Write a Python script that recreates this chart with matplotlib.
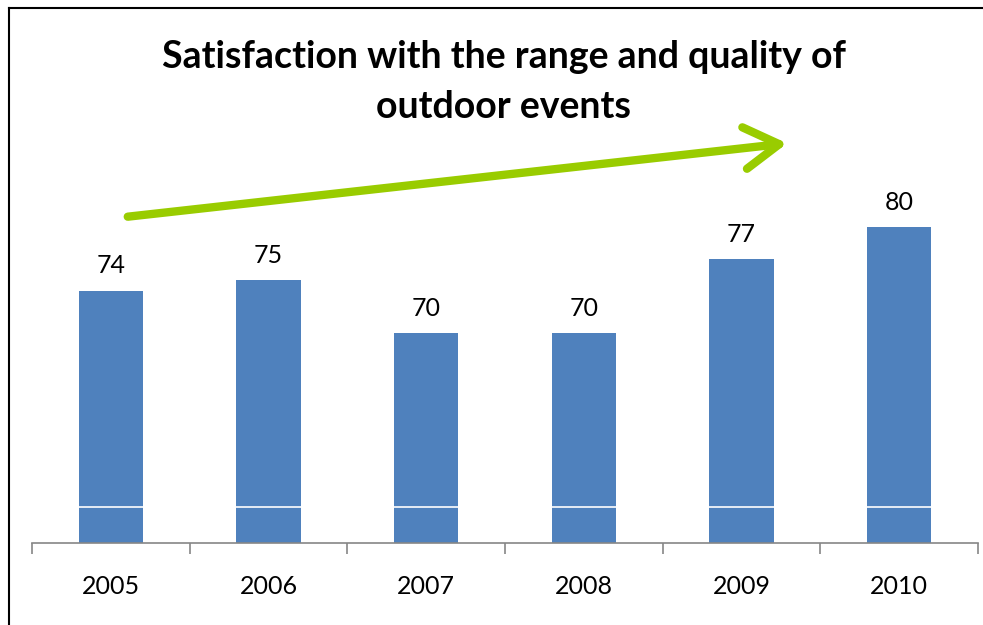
import matplotlib
matplotlib.use("Agg")
import matplotlib.pyplot as plt
from matplotlib.lines import Line2D
from matplotlib.patches import FancyArrowPatch

years = ["2005", "2006", "2007", "2008", "2009", "2010"]
values = [74, 75, 70, 70, 77, 80]
title = "Satisfaction with the range and quality of\noutdoor events"

W, H = 983, 625
fig = plt.figure(figsize=(W / 100, H / 100), dpi=100)
fig.patch.set_facecolor("white")

def fx(px):
    return px / W

def fy(py):
    return 1 - py / H

ymin = 50.2
scale = 10.6  # px per unit
ax_top_px, ax_bot_px = 8, 543
ymax = ymin + (ax_bot_px - ax_top_px) / scale
ax = fig.add_axes([fx(32), fy(ax_bot_px), fx(978) - fx(32), (ax_bot_px - ax_top_px) / H])
ax.set_facecolor("none")

x = list(range(len(years)))
bars = ax.bar(x, values, width=0.41, color="#4F81BD", zorder=2)
ax.set_xlim(-0.5, len(years) - 0.5)
ax.set_ylim(ymin, ymax)
ax.axhline(ymin + (543 - 507) / scale, color="white", lw=1.2, zorder=3)

for xi, v in zip(x, values):
    ax.text(xi, v + 1.25, str(v), ha="center", va="bottom", fontsize=18,
            family="Lato", color="black")

for s in ["top", "right", "left"]:
    ax.spines[s].set_visible(False)
ax.spines["bottom"].set_color("#868686")
ax.spines["bottom"].set_linewidth(1.2)
ax.set_yticks([])
ax.set_xticks([i - 0.5 for i in range(len(years) + 1)], minor=False)
ax.set_xticklabels([])
ax.tick_params(axis="x", which="major", length=8, color="#868686", width=1.2)
ax.set_xticks(x, minor=True)
ax.set_xticklabels(years, minor=True, fontsize=18, family="Lato")
ax.tick_params(axis="x", which="minor", length=0, pad=23)

fig.text(fx(504), fy(82), title, ha="center", va="center", fontsize=27,
         fontweight="bold", family="Lato", linespacing=1.6)

arrow = FancyArrowPatch((fx(125), fy(217)), (fx(790), fy(143)),
                        transform=fig.transFigure,
                        arrowstyle="->,head_length=2.5,head_width=1.5",
                        color="#99CC00", lw=6, capstyle="round",
                        joinstyle="round", mutation_scale=10)
fig.patches.append(arrow)

fig.add_artist(Line2D([fx(9), 1], [fy(8), fy(8)], transform=fig.transFigure,
                      color="black", lw=1.5))
fig.add_artist(Line2D([fx(9), fx(9)], [fy(8), 0], transform=fig.transFigure,
                      color="black", lw=1.5))

fig.savefig("out.png", dpi=100)
